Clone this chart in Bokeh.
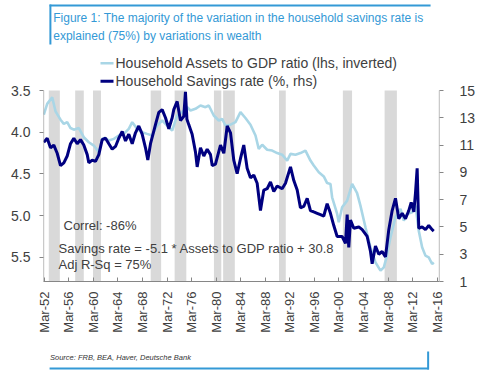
import math
from bokeh.plotting import figure
from bokeh.layouts import column
from bokeh.models import Range1d, LinearAxis, FixedTicker
from bokeh.core.properties import value
from bokeh.embed import file_html
from bokeh.resources import INLINE

# ---------------- data ----------------
years_sav = [1952.09, 1952.64, 1953.18, 1953.72, 1954.27, 1954.81, 1955.35, 1955.90, 1956.44, 1956.98,
             1957.53, 1958.07, 1958.60, 1959.16, 1959.42, 1959.97, 1960.51, 1961.05, 1961.60, 1962.14,
             1962.68, 1963.23, 1963.77, 1964.30, 1964.86, 1965.40, 1965.93, 1966.49, 1967.02, 1967.56,
             1968.11, 1968.65, 1969.03, 1969.47, 1970.28, 1970.82, 1971.37, 1971.91, 1972.45, 1973.00,
             1973.26, 1973.81, 1974.35, 1974.89, 1975.16, 1975.40, 1975.70, 1976.25, 1976.79, 1977.07,
             1977.61, 1978.15, 1978.70, 1979.24, 1979.52, 1980.05, 1980.87, 1981.41, 1981.96, 1982.50,
             1983.03, 1983.58, 1984.12, 1984.66, 1985.21, 1985.75, 1986.29, 1986.84, 1987.38, 1987.92,
             1988.47, 1989.01, 1989.55, 1990.10, 1990.91, 1991.45, 1992.27, 1992.81, 1993.36, 1993.89,
             1994.43, 1994.99, 1995.52, 1996.06, 1996.61, 1997.15, 1997.69, 1998.24, 1998.78, 1999.32,
             1999.87, 2000.68, 2001.23, 2001.50, 2001.76, 2002.04, 2002.58, 2003.39, 2003.95, 2004.76,
             2005.30, 2005.57, 2006.11, 2006.65, 2007.20, 2007.74, 2008.28, 2008.83, 2009.37, 2009.91,
             2010.46, 2011.00, 2011.54, 2011.93, 2012.36, 2012.63, 2012.90, 2013.16, 2013.71, 2014.25,
             2014.79, 2015.34, 2015.60]
sav_rate = [11.2, 11.5, 10.8, 11.0, 10.4, 9.5, 9.7, 10.2, 11.1, 11.5,
            11.1, 11.4, 11.0, 10.3, 9.7, 9.9, 9.8, 10.3, 11.4, 11.5,
            11.1, 10.7, 10.9, 11.5, 12.0, 11.3, 11.8, 11.1, 11.9, 12.4,
            11.8, 10.8, 9.9, 11.1, 12.5, 13.4, 13.6, 13.0, 12.2, 13.0,
            13.6, 14.2, 12.8, 13.1, 14.9, 12.9, 12.5, 11.8, 10.5, 9.4,
            10.8, 10.2, 10.7, 10.3, 9.5, 9.6, 11.0, 10.4, 12.4, 11.9,
            9.9, 8.9, 10.0, 11.0, 9.3, 8.6, 8.8, 8.2, 6.2, 7.7,
            7.8, 8.3, 7.6, 8.0, 7.8, 8.2, 9.4, 8.4, 7.7, 6.4,
            6.5, 7.1, 6.2, 6.1, 6.0, 5.9, 5.8, 6.7, 6.0, 5.1,
            4.3, 4.3, 3.8, 5.9, 3.5, 5.5, 4.9, 5.0, 4.8, 4.3,
            3.2, 2.3, 3.6, 3.0, 3.2, 2.8, 4.8, 6.2, 7.1, 5.6,
            6.0, 5.6, 6.2, 6.8, 6.1, 7.5, 9.3, 4.9, 5.0, 4.8,
            5.1, 4.8, 4.7]

years_assets = [1952.09, 1952.64, 1953.46, 1954.00, 1954.81, 1955.35, 1955.90, 1956.44, 1956.98, 1957.79,
                1958.60, 1959.42, 1960.24, 1961.05, 1961.60, 1962.14, 1962.68, 1963.50, 1964.30, 1965.12,
                1965.93, 1966.49, 1967.30, 1968.11, 1968.92, 1969.74, 1970.55, 1971.37, 1972.18, 1973.00,
                1973.81, 1974.63, 1975.44, 1975.98, 1976.79, 1977.61, 1978.42, 1978.96, 1979.77, 1980.59,
                1981.14, 1981.68, 1982.50, 1983.31, 1984.12, 1984.93, 1985.75, 1986.57, 1987.10, 1987.66,
                1988.47, 1989.29, 1990.10, 1990.91, 1991.73, 1992.27, 1993.08, 1993.89, 1994.71, 1995.52,
                1996.06, 1996.88, 1997.69, 1998.24, 1998.78, 1999.05, 1999.87, 2000.13, 2000.68, 2001.50,
                2002.31, 2003.12, 2003.66, 2004.48, 2005.30, 2006.11, 2006.93, 2007.47, 2007.91, 2008.56,
                2009.37, 2010.19, 2010.73, 2011.27, 2012.09, 2012.63, 2013.16, 2013.71, 2014.25, 2014.79,
                2015.34, 2015.60]
assets_gdp = [3.79, 3.66, 3.58, 3.75, 3.85, 3.90, 3.88, 3.95, 3.97, 3.95,
              4.06, 4.12, 4.16, 4.24, 4.08, 4.07, 4.10, 4.08, 4.04, 4.02,
              3.96, 3.88, 3.96, 4.00, 4.02, 4.04, 3.92, 3.86, 3.92, 3.98,
              3.80, 3.76, 3.70, 3.74, 3.72, 3.68, 3.70, 3.68, 3.80, 3.86,
              3.84, 3.92, 3.91, 3.88, 3.76, 3.83, 3.91, 4.04, 4.20, 4.15,
              4.21, 4.22, 4.25, 4.27, 4.34, 4.26, 4.27, 4.25, 4.22, 4.34,
              4.40, 4.48, 4.53, 4.61, 4.62, 4.78, 4.98, 5.08, 4.90, 4.82,
              4.62, 4.73, 4.88, 5.14, 5.38, 5.56, 5.66, 5.62, 5.50, 5.26,
              5.02, 4.92, 5.06, 4.98, 4.96, 4.88, 5.18, 5.38, 5.48, 5.50,
              5.58, 5.56]

rec_start = [1952.9, 1957.2, 1960.1, 1969.5, 1973.4, 1979.8, 1981.3, 1990.4, 2000.8, 2007.6]
rec_end = [1954.7, 1958.6, 1961.4, 1971.2, 1975.3, 1981.0, 1983.2, 1991.5, 2002.3, 2009.6]

tick_years = [1952.17, 1956.17, 1960.17, 1964.17, 1968.17, 1972.17, 1976.17, 1980.17, 1984.17,
              1988.17, 1992.17, 1996.17, 2000.17, 2004.17, 2008.17, 2012.17, 2016.17]
tick_labels = ["Mar-52", "Mar-56", "Mar-60", "Mar-64", "Mar-68", "Mar-72", "Mar-76", "Mar-80", "Mar-84",
               "Mar-88", "Mar-92", "Mar-96", "Mar-00", "Mar-04", "Mar-08", "Mar-12", "Mar-16"]
left_ticks = [3.5, 4.0, 4.5, 5.0, 5.5]
right_ticks = [1, 3, 5, 7, 9, 11, 13, 15]

title_lines = ["Figure 1: The majority of the variation in the household savings rate is",
               "explained (75%) by variations in wealth"]
legend_labels = ["Household Assets to GDP ratio (lhs, inverted)", "Household Savings rate (%, rhs)"]
notes = ["Correl: -86%", "Savings rate = -5.1 * Assets to GDP ratio + 30.8", "Adj R-Sq = 75%"]
source_text = "Source: FRB, BEA, Haver, Deutsche Bank"

# ---------------- styles ----------------
FONT = "Liberation Sans"
LIGHT = "#a9d6e6"
NAVY = "#000080"
BAND = "#d9d9d9"
AXIS = "#868686"
TXT = "#404040"
BLUE = "#3399d6"

W = 488
TOP_H = 50          # title strip  (canvas y 0..50)
MAIN_H = 290        # chart        (canvas y 50..340)
BOT_H = 37          # source strip (canvas y 340..377)
PAD = 90 - TOP_H    # frame pixels above the 3.5 / 15 level

PX_PER_L = 191 / 2.29
Y_BOT = 5.79
Y_TOP_EXT = 3.5 - PAD / PX_PER_L
R_BOT = 1.0
R_TOP_EXT = 15 + PAD / (191 / 14)
X0, X1 = 1952.04, 2016.54


def dx(px):
    return X0 + (px - 43) * (X1 - X0) / 396


def dy(py):
    return 3.5 + (py - 90) / PX_PER_L


def strip(h):
    f = figure(width=W, height=h, x_range=Range1d(0, W), y_range=Range1d(h, 0),
               x_axis_type=None, y_axis_type=None, output_backend="svg",
               toolbar_location=None, tools="", min_border=0)
    f.min_border_left = f.min_border_right = f.min_border_top = f.min_border_bottom = 0
    f.outline_line_color = None
    f.grid.visible = False
    f.background_fill_color = "white"
    f.border_fill_color = "white"
    return f


# ---------------- title strip ----------------
top = strip(TOP_H)
top.text(x=[12, 12], y=[17, 35], text=title_lines, text_font=value(FONT), text_font_size="12px",
         text_color=BLUE, text_baseline="middle", text_align="left")
top.segment(x0=[7.5, 8.5], y0=[5, 4], x1=[477, 8.5], y1=[5, 44], line_color=BLUE, line_width=2)

# ---------------- main chart ----------------
p = figure(frame_width=396, frame_height=281 - TOP_H,
           min_border_left=43, min_border_right=49, min_border_top=0, min_border_bottom=59,
           x_range=Range1d(X0, X1), y_range=Range1d(Y_BOT, Y_TOP_EXT),
           output_backend="svg", toolbar_location=None, tools="")
p.extra_y_ranges = {"rhs": Range1d(R_BOT, R_TOP_EXT)}
p.outline_line_color = None
p.grid.visible = False
p.background_fill_color = "white"
p.border_fill_color = "white"

# recession bands
p.quad(left=rec_start, right=rec_end, bottom=Y_BOT, top=3.5, fill_color=BAND, line_color=None)

# series
p.line(years_assets, assets_gdp, line_color=LIGHT, line_width=2.6)
p.line(years_sav, sav_rate, y_range_name="rhs", line_color=NAVY, line_width=3)

# vertical axis lines only over the scaled part
p.segment(x0=[X0 + 0.02, X1 - 0.02], y0=[3.5, 3.5], x1=[X0 + 0.02, X1 - 0.02], y1=[Y_BOT, Y_BOT],
          line_color=AXIS, line_width=1)

# axes
xa = p.xaxis[0]
xa.ticker = FixedTicker(ticks=tick_years)
xa.major_label_overrides = {t: l for t, l in zip(tick_years, tick_labels)}
xa.major_label_orientation = math.pi / 2
xa.axis_line_color = AXIS
xa.major_tick_line_color = AXIS
xa.minor_tick_line_color = None
xa.major_tick_in = 4
xa.major_tick_out = 0
xa.major_label_standoff = 10
xa.major_label_text_color = TXT
xa.major_label_text_font = FONT
xa.major_label_text_font_size = "13px"

ya = p.yaxis[0]
ya.ticker = FixedTicker(ticks=left_ticks)
ya.major_label_overrides = {t: f"{t:.1f}" for t in left_ticks}
ya.axis_line_color = None
ya.major_tick_line_color = AXIS
ya.minor_tick_line_color = None
ya.major_tick_in = 0
ya.major_tick_out = 4
ya.major_label_standoff = 9
ya.major_label_text_color = TXT
ya.major_label_text_font = FONT
ya.major_label_text_font_size = "14px"

ra = LinearAxis(y_range_name="rhs", ticker=FixedTicker(ticks=right_ticks))
ra.axis_line_color = None
ra.major_tick_line_color = AXIS
ra.minor_tick_line_color = None
ra.major_tick_in = 0
ra.major_tick_out = 4
ra.major_label_standoff = 16
ra.major_label_text_align = "center"
ra.major_label_text_color = TXT
ra.major_label_text_font = FONT
ra.major_label_text_font_size = "14px"
p.add_layout(ra, "right")

# legend (inside the frame's upper margin)
p.segment(x0=[dx(100), dx(100)], y0=[dy(62.7), dy(80.7)], x1=[dx(113), dx(113)], y1=[dy(62.7), dy(80.7)],
          line_color=[LIGHT, NAVY], line_width=[2.6, 3])
p.text(x=[dx(115), dx(115)], y=[dy(62.7), dy(80.7)], text=legend_labels, text_font=value(FONT),
       text_font_size="14px", text_color=TXT, text_baseline="middle", text_align="left")

# notes inside the plot
p.text(x=[dx(63), dx(58), dx(58)], y=[dy(225), dy(248), dy(264)], text=notes, text_font=value(FONT),
       text_font_size="13px", text_color=TXT, text_baseline="middle", text_align="left")

# ---------------- source strip ----------------
bot = strip(BOT_H)
bot.text(x=[8], y=[17], text=[source_text], text_font=value(FONT), text_font_size="7.5px",
         text_font_style="italic", text_color="#333333", text_baseline="middle", text_align="left")
bot.segment(x0=[7.5, 474], y0=[28, 11], x1=[475, 474], y1=[28, 29], line_color=BLUE, line_width=2)

layout = column(top, p, bot, spacing=0)
open("out.html", "w").write(file_html(layout, INLINE))
